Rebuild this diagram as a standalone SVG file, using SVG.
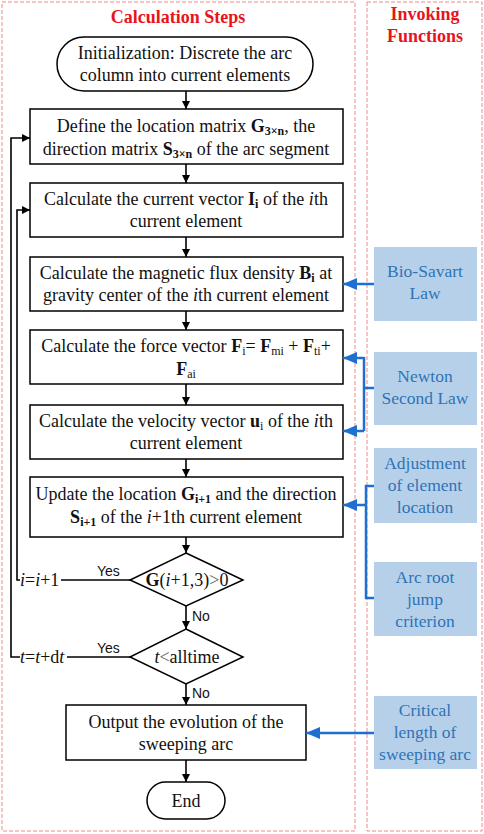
<svg xmlns="http://www.w3.org/2000/svg" width="484" height="834" viewBox="0 0 484 834">
<style>
.panel{fill:none;stroke:#f08a8a;stroke-width:1;stroke-dasharray:4 2}
.title{font-family:"Liberation Serif",serif;font-weight:bold;font-size:18px;fill:#e8141c;text-anchor:middle}
.node{fill:#fff;stroke:#000;stroke-width:1.5}
.t{font-family:"Liberation Serif",serif;font-size:18px;fill:#111;text-anchor:middle}
.lp{font-family:"Liberation Serif",serif;font-size:18px;fill:#111}
.lbl{font-family:"Liberation Sans",sans-serif;font-size:14px;fill:#111}
.b{font-weight:bold}
.s{font-size:12px}
.fn{fill:#b7d0ea}
.ft{font-family:"Liberation Serif",serif;font-size:17.5px;fill:#2e74b5;text-anchor:middle}
.ln{fill:none;stroke:#000;stroke-width:1.6}
.bl{fill:none;stroke:#1f6fd0;stroke-width:2.5}
</style>
<defs>
<marker id="ah" markerWidth="8" markerHeight="8" refX="8" refY="4" orient="auto" markerUnits="userSpaceOnUse">
<path d="M0,0 L8,4 L0,8 Z" fill="#000"/>
</marker>
<marker id="bh" markerWidth="14" markerHeight="12" refX="14" refY="6" orient="auto" markerUnits="userSpaceOnUse">
<path d="M0,0 L14,6 L0,12 Z" fill="#1f6fd0"/>
</marker>
</defs>
<rect width="484" height="834" fill="#fff"/>
<g id="panels">
<rect class="panel" x="2" y="2" width="353" height="829"/>
<rect class="panel" x="367" y="2" width="115" height="829"/>
<text class="title" x="178" y="23">Calculation Steps</text>
<text class="title" x="425" y="20">Invoking</text>
<text class="title" x="425" y="42">Functions</text>
</g>
<g id="start">
<rect class="node" x="57" y="37" width="256" height="54" rx="27"/>
<text class="t" x="185" y="59">Initialization: Discrete the arc</text>
<text class="t" x="185" y="81">column into current elements</text>
</g>
<g id="define">
<rect class="node" x="30" y="109" width="313" height="55"/>
<text class="t" x="186" y="132">Define the location matrix <tspan class="b">G</tspan><tspan class="b s" dy="3">3×n</tspan><tspan dy="-3">, the</tspan></text>
<text class="t" x="186" y="155">direction matrix <tspan class="b">S</tspan><tspan class="b s" dy="3">3×n</tspan><tspan dy="-3"> of the arc segment</tspan></text>
</g>
<g id="current">
<rect class="node" x="30" y="183" width="313" height="54"/>
<text class="t" x="186" y="205">Calculate the current vector <tspan class="b">I</tspan><tspan class="b s" dy="3">i</tspan><tspan dy="-3"> of the </tspan><tspan font-style="italic">i</tspan>th</text>
<text class="t" x="186" y="227">current element</text>
</g>
<g id="flux">
<rect class="node" x="30" y="257" width="313" height="54"/>
<text class="t" x="186" y="279">Calculate the magnetic flux density <tspan class="b">B</tspan><tspan class="b s" dy="3">i</tspan><tspan dy="-3"> at</tspan></text>
<text class="t" x="186" y="301">gravity center of the <tspan font-style="italic">i</tspan>th current element</text>
</g>
<g id="force">
<rect class="node" x="30" y="330" width="313" height="54"/>
<text class="t" x="186" y="352">Calculate the force vector <tspan class="b">F</tspan><tspan class="s" dy="3">i</tspan><tspan dy="-3">= </tspan><tspan class="b">F</tspan><tspan class="s" dy="3">mi</tspan><tspan dy="-3"> + </tspan><tspan class="b">F</tspan><tspan class="s" dy="3">ti</tspan><tspan dy="-3">+</tspan></text>
<text class="t" x="186" y="375"><tspan class="b">F</tspan><tspan class="s" dy="3">ai</tspan></text>
</g>
<g id="velocity">
<rect class="node" x="30" y="405" width="313" height="54"/>
<text class="t" x="186" y="427">Calculate the velocity vector <tspan class="b">u</tspan><tspan class="s" dy="3">i</tspan><tspan dy="-3"> of the </tspan><tspan font-style="italic">i</tspan>th</text>
<text class="t" x="186" y="449">current element</text>
</g>
<g id="update">
<rect class="node" x="30" y="477" width="313" height="60"/>
<text class="t" x="186" y="500">Update the location <tspan class="b">G</tspan><tspan class="b s" dy="3">i+1</tspan><tspan dy="-3"> and the direction</tspan></text>
<text class="t" x="186" y="523"><tspan class="b">S</tspan><tspan class="b s" dy="3">i+1</tspan><tspan dy="-3"> of  the </tspan><tspan font-style="italic">i</tspan>+1th current element</text>
</g>
<g id="decision1">
<path class="node" d="M186,553 L243,580 L186,606 L130,580 Z"/>
<text class="t" x="187" y="586"><tspan class="b">G</tspan>(<tspan font-style="italic">i</tspan>+1,3)<tspan fill="#666">&gt;</tspan>0</text>
</g>
<g id="decision2">
<path class="node" d="M186,629 L243,657 L186,684 L130,657 Z"/>
<text class="t" x="187" y="663"><tspan font-style="italic">t</tspan><tspan fill="#666">&lt;</tspan>alltime</text>
</g>
<g id="output">
<rect class="node" x="66" y="705" width="240" height="55"/>
<text class="t" x="186" y="728">Output the evolution of the</text>
<text class="t" x="186" y="750">sweeping arc</text>
</g>
<g id="end">
<rect class="node" x="147" y="782" width="78" height="37" rx="18.5"/>
<text class="t" x="186" y="807">End</text>
</g>
<g id="biosavart">
<rect class="fn" x="374" y="247" width="103" height="74"/>
<text class="ft" x="425" y="277">Bio-Savart</text>
<text class="ft" x="425" y="299">Law</text>
</g>
<g id="newton">
<rect class="fn" x="374" y="352" width="103" height="73"/>
<text class="ft" x="425" y="382">Newton</text>
<text class="ft" x="425" y="404">Second Law</text>
</g>
<g id="adjustment">
<rect class="fn" x="374" y="448" width="103" height="75"/>
<text class="ft" x="425" y="469">Adjustment</text>
<text class="ft" x="425" y="491">of element</text>
<text class="ft" x="425" y="513">location</text>
</g>
<g id="arcroot">
<rect class="fn" x="374" y="562" width="103" height="74"/>
<text class="ft" x="425" y="583">Arc root</text>
<text class="ft" x="425" y="605">jump</text>
<text class="ft" x="425" y="627">criterion</text>
</g>
<g id="critical">
<rect class="fn" x="374" y="696" width="103" height="73"/>
<text class="ft" x="425" y="716">Critical</text>
<text class="ft" x="425" y="738">length of</text>
<text class="ft" x="425" y="760">sweeping arc</text>
</g>
<g id="connectors">
<line class="ln" x1="186" y1="91" x2="186" y2="109" marker-end="url(#ah)"/>
<line class="ln" x1="186" y1="164" x2="186" y2="183" marker-end="url(#ah)"/>
<line class="ln" x1="186" y1="237" x2="186" y2="257" marker-end="url(#ah)"/>
<line class="ln" x1="186" y1="311" x2="186" y2="330" marker-end="url(#ah)"/>
<line class="ln" x1="186" y1="384" x2="186" y2="405" marker-end="url(#ah)"/>
<line class="ln" x1="186" y1="459" x2="186" y2="477" marker-end="url(#ah)"/>
<line class="ln" x1="186" y1="537" x2="186" y2="553" marker-end="url(#ah)"/>
<line class="ln" x1="186" y1="606" x2="186" y2="629" marker-end="url(#ah)"/>
<line class="ln" x1="186" y1="684" x2="186" y2="705" marker-end="url(#ah)"/>
<line class="ln" x1="186" y1="760" x2="186" y2="782" marker-end="url(#ah)"/>
<line class="ln" x1="130" y1="580" x2="61" y2="580"/>
<path class="ln" d="M20,580 H17 V210 H30" marker-end="url(#ah)"/>
<line class="ln" x1="130" y1="657" x2="67" y2="657"/>
<path class="ln" d="M20,657 H11 V138 H30" marker-end="url(#ah)"/>
<text class="lbl" x="97" y="576">Yes</text>
<text class="lbl" x="97" y="653">Yes</text>
<text class="lbl" x="192" y="621">No</text>
<text class="lbl" x="192" y="698">No</text>
<text class="lp" x="20" y="586"><tspan font-style="italic">i</tspan>=<tspan font-style="italic">i</tspan>+1</text>
<text class="lp" x="20" y="663"><tspan font-style="italic">t</tspan>=<tspan font-style="italic">t</tspan>+d<tspan font-style="italic">t</tspan></text>
<line class="bl" x1="374" y1="284" x2="343" y2="284" marker-end="url(#bh)"/>
<path class="bl" d="M374,388 H364"/>
<path class="bl" d="M364,357 V431"/>
<line class="bl" x1="364" y1="358" x2="343" y2="358" marker-end="url(#bh)"/>
<line class="bl" x1="364" y1="431" x2="343" y2="431" marker-end="url(#bh)"/>
<path class="bl" d="M374,486 H366 V598 H374"/>
<line class="bl" x1="366" y1="505" x2="343" y2="505" marker-end="url(#bh)"/>
<line class="bl" x1="374" y1="733" x2="306" y2="733" marker-end="url(#bh)"/>
</g>
</svg>
